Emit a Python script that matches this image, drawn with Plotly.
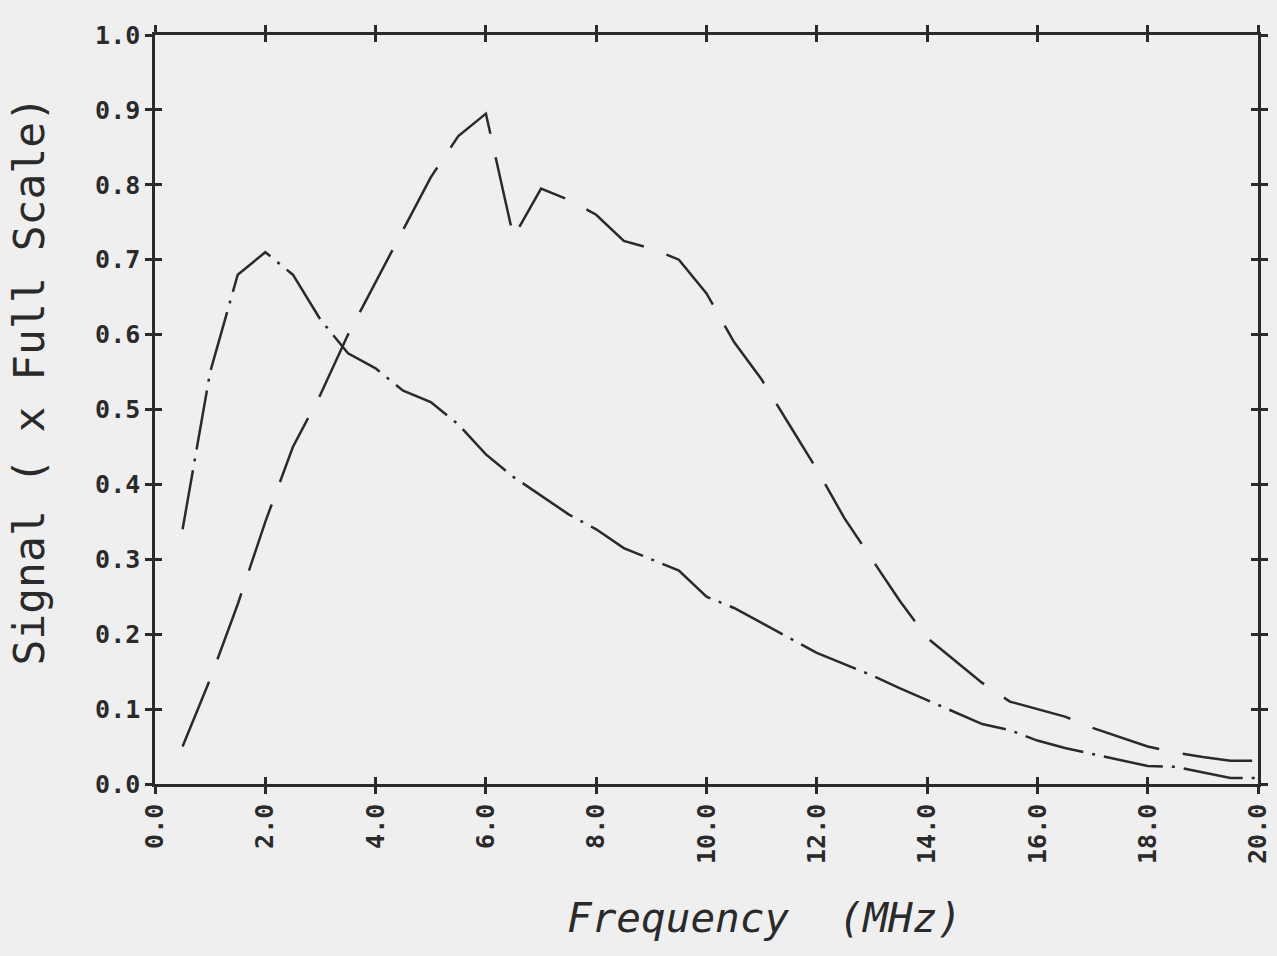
import plotly.graph_objects as go

freq = [0.5, 1.0, 1.5, 2.0, 2.5, 3.0, 3.5, 4.0, 4.5, 5.0, 5.5, 6.0, 6.5, 7.0, 7.5, 8.0,
        8.5, 9.0, 9.5, 10.0, 10.5, 11.0, 11.5, 12.0, 12.5, 13.0, 13.5, 14.0, 14.5, 15.0,
        15.5, 16.0, 16.5, 17.0, 17.5, 18.0, 18.5, 19.0, 19.5, 20.0]

signal_dashdot = [0.34, 0.55, 0.68, 0.71, 0.68, 0.62, 0.575, 0.555, 0.525, 0.51, 0.48, 0.44,
                  0.41, 0.385, 0.36, 0.34, 0.315, 0.30, 0.285, 0.25, 0.235, 0.215, 0.195,
                  0.175, 0.16, 0.145, 0.128, 0.112, 0.095, 0.08, 0.072, 0.058, 0.048, 0.04,
                  0.032, 0.024, 0.023, 0.016, 0.008, 0.008]

signal_dashed = [0.05, 0.14, 0.24, 0.35, 0.45, 0.52, 0.60, 0.67, 0.74, 0.81, 0.865, 0.895,
                 0.73, 0.795, 0.78, 0.76, 0.725, 0.715, 0.70, 0.655, 0.59, 0.54, 0.48, 0.42,
                 0.355, 0.30, 0.245, 0.195, 0.165, 0.135, 0.11, 0.10, 0.09, 0.075, 0.062,
                 0.05, 0.042, 0.036, 0.031, 0.031]

x_ticks = [0, 2, 4, 6, 8, 10, 12, 14, 16, 18, 20]
x_tick_text = ["0.0", "2.0", "4.0", "6.0", "8.0", "10.0", "12.0", "14.0", "16.0", "18.0", "20.0"]
y_ticks = [0.0, 0.1, 0.2, 0.3, 0.4, 0.5, 0.6, 0.7, 0.8, 0.9, 1.0]
y_tick_text = ["0.0", "0.1", "0.2", "0.3", "0.4", "0.5", "0.6", "0.7", "0.8", "0.9", "1.0"]

x_title = "Frequency  (MHz)"
y_title = "Signal ( x Full Scale)"

INK = "#2a2a2a"
PAPER = "#efefef"
TICKFONT = dict(family="DejaVu Sans Mono", size=25, color=INK, weight="bold")

fig = go.Figure()
fig.add_trace(go.Scatter(x=freq, y=signal_dashdot, mode="lines",
                         line=dict(color=INK, width=2.5, dash="60px,9px,3px,9px"),
                         hoverinfo="skip", showlegend=False))
fig.add_trace(go.Scatter(x=freq, y=signal_dashed, mode="lines",
                         line=dict(color=INK, width=2.5, dash="70px,24px"),
                         hoverinfo="skip", showlegend=False))
# invisible trace to activate overlay axes (inner half of the cross ticks)
fig.add_trace(go.Scatter(x=freq, y=signal_dashed, mode="lines", xaxis="x2", yaxis="y2",
                         line=dict(color="rgba(0,0,0,0)", width=0),
                         hoverinfo="skip", showlegend=False))

axis_common = dict(showgrid=False, zeroline=False, showline=True, linecolor=INK,
                   linewidth=2.5, mirror="allticks", tickcolor=INK, tickwidth=2.5,
                   ticklen=7, automargin=False)

fig.update_layout(
    width=1277, height=956,
    margin=dict(l=155, r=19, t=35, b=172),
    paper_bgcolor=PAPER, plot_bgcolor=PAPER,
    xaxis=dict(range=[0, 20], tickvals=x_ticks, ticktext=x_tick_text, ticks="outside",
               tickangle=-90, tickfont=TICKFONT, **axis_common),
    yaxis=dict(range=[0, 1.0], tickvals=y_ticks, ticktext=y_tick_text, ticks="outside",
               tickfont=TICKFONT, **axis_common),
    xaxis2=dict(range=[0, 20], overlaying="x", side="bottom", tickvals=x_ticks,
                showticklabels=False, ticks="inside", **axis_common),
    yaxis2=dict(range=[0, 1.0], overlaying="y", side="left", tickvals=y_ticks,
                showticklabels=False, ticks="inside", **axis_common),
    annotations=[
        dict(text=x_title, xref="paper", yref="paper", x=0.553, y=-0.179,
             xanchor="center", yanchor="middle", showarrow=False,
             font=dict(family="DejaVu Sans Mono", size=41, color=INK, style="italic")),
        dict(text=y_title, xref="paper", yref="paper", x=-0.114, y=0.539,
             xanchor="center", yanchor="middle", showarrow=False, textangle=-90,
             font=dict(family="DejaVu Sans Mono", size=43, color=INK)),
    ],
)

fig.write_html("out.html")
